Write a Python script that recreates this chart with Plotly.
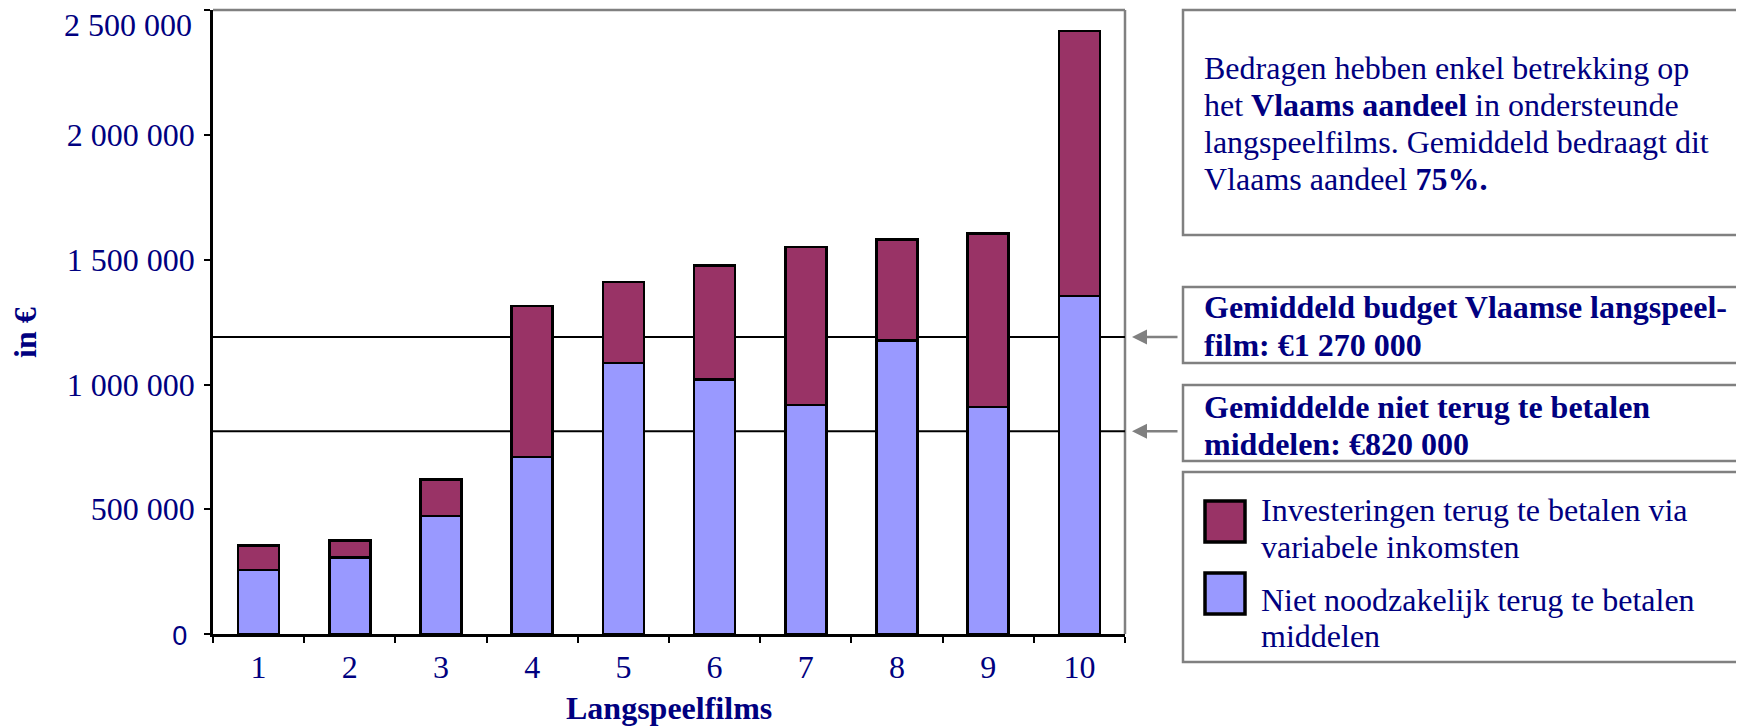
import plotly.graph_objects as go

# ---- data ----
films = ["1", "2", "3", "4", "5", "6", "7", "8", "9", "10"]
niet_terug = [257000, 307000, 472000, 709000, 1087000, 1020000, 918000, 1176000, 909000, 1355000]
totaal = [355000, 374000, 619000, 1315000, 1410000, 1477000, 1552000, 1582000, 1605000, 2416000]
terug = [t - n for t, n in zip(totaal, niet_terug)]
series_names = ["Investeringen terug te betalen via<br>variabele inkomsten",
                "Niet noodzakelijk terug te betalen<br>middelen"]
line_values = [1190000, 813000]  # drawn reference lines (budget avg, niet terug avg)
y_tickvals = [0, 500000, 1000000, 1500000, 2000000, 2500000]
y_ticktext = ['<span style="font-family:Liberation Sans;font-size:27px">0\u00a0</span>',
              "500 000", "1 000 000", "1 500 000", "2 000 000", "2 500 000"]

NAVY = "#000080"
BLUE = "#9999FF"
MAROON = "#993366"
GRAY = "#808080"
FONT = "Liberation Serif"
FS = 32

OFF = 8  # page body margin of the browser
W, H = 1744 - OFF, 727 - OFF
# plot area in screenshot pixels
L, R, T, B = 213 - OFF, 1125 - OFF, 10 - OFF, 634 - OFF


def px_x(x):
    return (x - OFF - L) / (R - L)


def px_y(y):
    return (B - (y - OFF)) / (B - T)


fig = go.Figure()
fig.add_trace(go.Bar(x=films, y=niet_terug, name="Niet noodzakelijk terug te betalen middelen",
                     marker=dict(color=BLUE, line=dict(color="black", width=2.5))))
fig.add_trace(go.Bar(x=films, y=terug, name="Investeringen terug te betalen via variabele inkomsten",
                     marker=dict(color=MAROON, line=dict(color="black", width=2.5))))

shapes = []
# top / right gray border
shapes.append(dict(type="line", xref="paper", yref="paper", x0=0, x1=1, y0=1, y1=1,
                   line=dict(color=GRAY, width=2.5), layer="below"))
shapes.append(dict(type="line", xref="paper", yref="paper", x0=1, x1=1, y0=0, y1=1,
                   line=dict(color=GRAY, width=2.5), layer="below"))
# horizontal reference lines
for v in line_values:
    shapes.append(dict(type="line", xref="paper", yref="y", x0=0, x1=1, y0=v, y1=v,
                       line=dict(color="black", width=2), layer="below"))

# text boxes
boxes = [(10, 235), (287, 363), (385, 461), (472, 662)]
for (y0, y1) in boxes:
    shapes.append(dict(type="rect", xref="paper", yref="paper",
                       x0=px_x(1183), x1=px_x(1741), y0=px_y(y1), y1=px_y(y0),
                       line=dict(color=GRAY, width=2.5), fillcolor="white"))
# legend swatches
for (y0, y1), col in [((501, 542), MAROON), ((573, 614), BLUE)]:
    shapes.append(dict(type="rect", xref="paper", yref="paper",
                       x0=px_x(1205), x1=px_x(1245), y0=px_y(y1), y1=px_y(y0),
                       line=dict(color="black", width=3.5), fillcolor=col))

annotations = []


def text_line(txt, ypix, xpix=1202, bold=False):
    annotations.append(dict(text=("<b>%s</b>" % txt) if bold else txt,
                            xref="paper", yref="paper", x=px_x(xpix), y=px_y(ypix),
                            xanchor="left", yanchor="middle", showarrow=False,
                            font=dict(family=FONT, size=FS, color=NAVY)))


box1 = ["Bedragen hebben enkel betrekking op",
        "het <b>Vlaams aandeel</b> in ondersteunde",
        "langspeelfilms. Gemiddeld bedraagt dit",
        "Vlaams aandeel <b>75%.</b>"]
for txt, yp in zip(box1, [68, 105, 142, 179]):
    text_line(txt, yp)

for txt, yp in zip(["Gemiddeld budget Vlaamse langspeel-", "film: €1 270 000"], [307, 345]):
    text_line(txt, yp, bold=True)
for txt, yp in zip(["Gemiddelde niet terug te betalen", "middelen: €820 000"], [407, 444]):
    text_line(txt, yp, bold=True)

leg_lines = series_names[0].split("<br>") + series_names[1].split("<br>")
for txt, yp in zip(leg_lines, [510, 547, 600, 636]):
    text_line(txt, yp, xpix=1259)

# arrows
for v in line_values:
    annotations.append(dict(text="", xref="paper", yref="y", x=px_x(1132), y=v,
                            ax=47, ay=0, showarrow=True, arrowhead=2, arrowsize=1.2,
                            arrowwidth=2.5, arrowcolor=GRAY))

# top tick label (kept inside the page, like the original)
annotations.append(dict(text=y_ticktext[-1], xref="paper", yref="paper", x=px_x(194), y=px_y(25),
                        xanchor="right", yanchor="middle", showarrow=False,
                        font=dict(family=FONT, size=FS, color=NAVY)))

# axis titles
annotations.append(dict(text="<b>in €</b>", xref="paper", yref="paper", x=px_x(25), y=px_y(333),
                        xanchor="center", yanchor="middle", textangle=-90, showarrow=False,
                        font=dict(family=FONT, size=FS, color=NAVY)))
annotations.append(dict(text="<b>Langspeelfilms</b>", xref="paper", yref="paper", x=0.5, y=px_y(708),
                        xanchor="center", yanchor="middle", showarrow=False,
                        font=dict(family=FONT, size=FS, color=NAVY)))

fig.update_layout(
    width=W, height=H, autosize=False,
    margin=dict(l=L, r=W - R, t=T, b=H - B, pad=0),
    paper_bgcolor="white", plot_bgcolor="white",
    barmode="stack", bargap=0.55, showlegend=False,
    shapes=shapes, annotations=annotations,
    font=dict(family=FONT, size=FS, color=NAVY),
)
fig.update_xaxes(type="category", showline=True, linecolor="black", linewidth=2.5,
                 ticks="outside", tickson="boundaries", ticklen=6, tickwidth=2, tickcolor="black",
                 showgrid=False, zeroline=False,
                 tickfont=dict(family=FONT, size=FS, color=NAVY), ticklabelstandoff=3)
fig.update_yaxes(range=[0, 2501000], showline=True, linecolor="black", linewidth=2.5,
                 ticks="outside", ticklen=6, tickwidth=2, tickcolor="black",
                 tickvals=y_tickvals, ticktext=y_ticktext[:-1] + [""],
                 showgrid=False, zeroline=False,
                 tickfont=dict(family=FONT, size=FS, color=NAVY), ticklabelstandoff=3)

fig.write_html("out.html")
